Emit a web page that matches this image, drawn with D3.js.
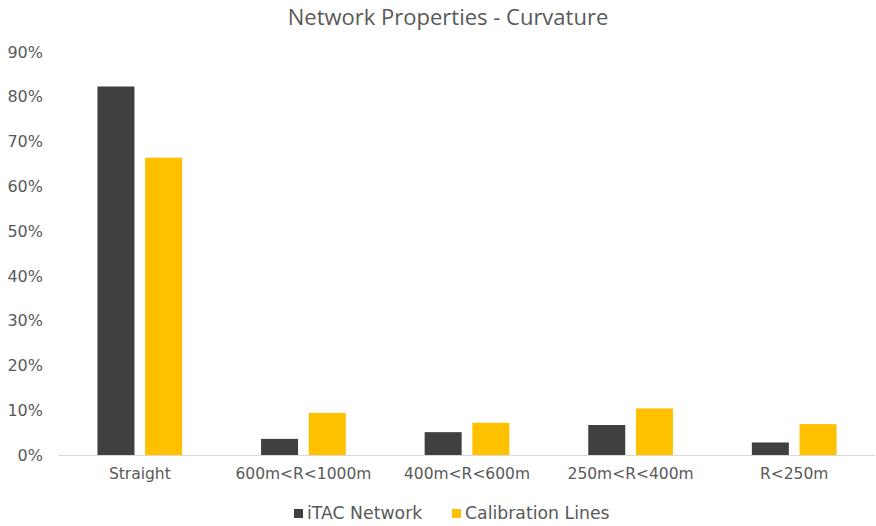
<!DOCTYPE html>
<html>
<head>
<meta charset="utf-8">
<script src="https://cdn.jsdelivr.net/npm/d3@7"></script>
<style>
  body { margin: 0; background: #fff; }
  text { fill: #595959; }
</style>
</head>
<body>
<script>
// Chart data
var categories = ["Straight", "600m<R<1000m", "400m<R<600m", "250m<R<400m", "R<250m"];
var seriesNames = ["iTAC Network", "Calibration Lines"];
var itacValues = [0.823, 0.036, 0.051, 0.067, 0.028];
var calibValues = [0.664, 0.094, 0.072, 0.104, 0.069];
var yTicks = [0, 0.1, 0.2, 0.3, 0.4, 0.5, 0.6, 0.7, 0.8, 0.9];
var colors = ["#404040", "#FFC000"];

var W = 876, H = 526;
var plot = {left: 58, right: 876, top: 52, bottom: 455};

var svg = d3.select("body").append("svg")
    .attr("width", W)
    .attr("height", H);

// Scales
var x0 = d3.scaleBand()
    .domain(categories)
    .range([plot.left, plot.right]);

var x1 = d3.scaleBand()
    .domain(seriesNames)
    .range([0, 84.7])
    .paddingInner(0.224);

var y = d3.scaleLinear()
    .domain([0, 0.9])
    .range([plot.bottom, plot.top]);

// Title
svg.append("text")
    .attr("x", 448)
    .attr("y", 25)
    .attr("text-anchor", "middle")
    .style("font-family", "'Open Sans', sans-serif")
    .style("font-size", "22px")
    .text("Network Properties - Curvature");

// Y axis labels
var yAxis = d3.axisLeft(y)
    .tickValues(yTicks)
    .tickFormat(d3.format(".0%"))
    .tickSize(0)
    .tickPadding(0);

var gy = svg.append("g")
    .attr("transform", "translate(43,0)")
    .call(yAxis);
gy.select(".domain").remove();
gy.selectAll("text")
    .style("font-family", "'DejaVu Sans', Verdana, sans-serif")
    .style("font-size", "16px")
    .style("fill", "#595959");

// Bars
var groups = svg.selectAll(".cat")
    .data(categories)
    .enter().append("g")
    .attr("class", "cat")
    .attr("transform", function(d) {
      return "translate(" + (x0(d) + x0.bandwidth() / 2 - 42.35) + ",0)";
    });

groups.selectAll("rect")
    .data(function(d, i) {
      return [
        {name: seriesNames[0], value: itacValues[i]},
        {name: seriesNames[1], value: calibValues[i]}
      ];
    })
    .enter().append("rect")
    .attr("x", function(d) { return x1(d.name); })
    .attr("y", function(d) { return y(d.value); })
    .attr("width", x1.bandwidth())
    .attr("height", function(d) { return y(0) - y(d.value); })
    .style("fill", function(d, i) { return colors[i]; });

// X axis
var xAxis = d3.axisBottom(x0)
    .tickSize(0)
    .tickPadding(13);

var gx = svg.append("g")
    .attr("transform", "translate(0," + plot.bottom + ")")
    .call(xAxis);
gx.select(".domain")
    .attr("stroke", "#d9d9d9")
    .attr("d", "M" + plot.left + ",0.5H" + (plot.right - 1));
gx.selectAll("text")
    .style("font-family", "'DejaVu Sans', Verdana, sans-serif")
    .style("font-size", "15.5px")
    .style("fill", "#595959");

// Legend
var legendX = [294, 452];
var legend = svg.selectAll(".legend")
    .data(seriesNames)
    .enter().append("g")
    .attr("class", "legend")
    .attr("transform", function(d, i) { return "translate(" + legendX[i] + ",509)"; });

legend.append("rect")
    .attr("width", 9)
    .attr("height", 9)
    .style("fill", function(d, i) { return colors[i]; });

legend.append("text")
    .attr("x", 13)
    .attr("y", 10)
    .style("font-family", "'DejaVu Sans', Verdana, sans-serif")
    .style("font-size", "17.3px")
    .text(function(d) { return d; });
</script>
</body>
</html>
